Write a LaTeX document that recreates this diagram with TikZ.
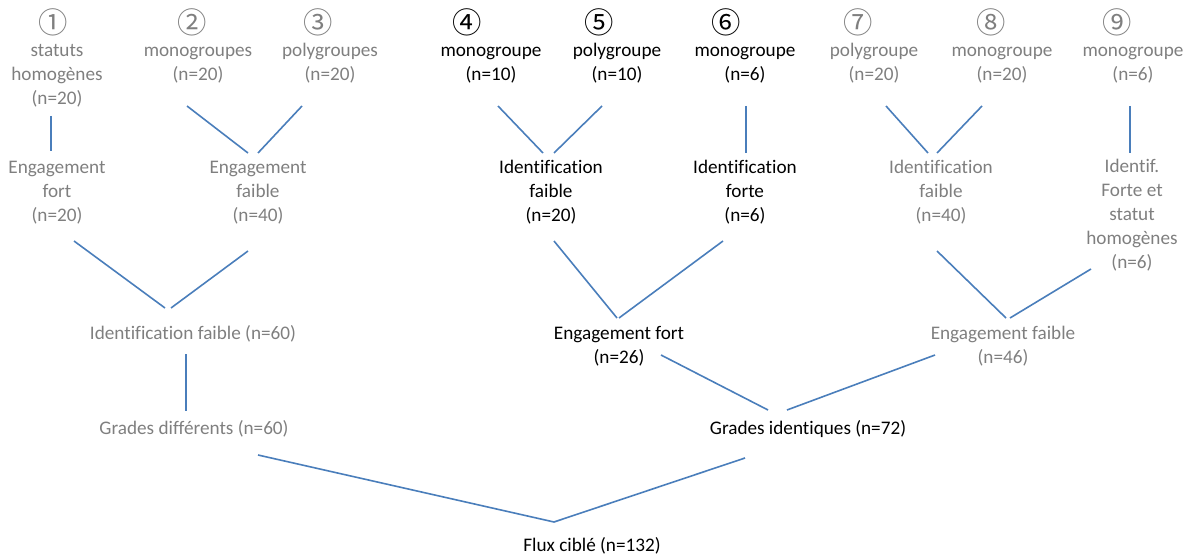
\documentclass[tikz,border=0pt]{standalone}
\usepackage{fontspec}
\setmainfont{Carlito}[Ligatures=NoCommon]
\newfontfamily\circfont{Noto Sans CJK SC}
\definecolor{txtgray}{RGB}{127,127,127}
\definecolor{lineblue}{RGB}{74,126,187}
\begin{document}
\begin{tikzpicture}[x=0.75pt,y=-0.75pt,
  lbl/.style={font=\fontsize{14.4}{18}\selectfont, align=center, inner sep=0pt, text=black},
  gr/.style={lbl, text=txtgray},
  num/.style={font=\circfont\fontsize{22}{24}\selectfont, inner sep=0pt, text=black},
  grnum/.style={num, text=txtgray},
  link/.style={draw=lineblue, line width=1.2pt}]
\useasboundingbox (0,0) rectangle (1189,556);

% circled numbers
\node[grnum] (c1) at (53,22) {①};
\node[grnum] (c2) at (192,22) {②};
\node[grnum] (c3) at (318,22) {③};
\node[num]   (c4) at (467,22) {④};
\node[num]   (c5) at (599,22) {⑤};
\node[num]   (c6) at (726,22) {⑥};
\node[grnum] (c7) at (858,22) {⑦};
\node[grnum] (c8) at (991,22) {⑧};
\node[grnum] (c9) at (1117,22) {⑨};

% top row
\node[gr]  (t1) at (57,75.5)  {\strut statuts\\\strut homogènes\\\strut (n=20)};
\node[gr]  (t2) at (198,63.5) {\strut monogroupes\\\strut (n=20)};
\node[gr]  (t3) at (330,63.5) {\strut polygroupes\\\strut (n=20)};
\node[lbl] (t4) at (491,63.5) {\strut monogroupe\\\strut (n=10)};
\node[lbl] (t5) at (617,63.5) {\strut polygroupe\\\strut (n=10)};
\node[lbl] (t6) at (745,63.5) {\strut monogroupe\\\strut (n=6)};
\node[gr]  (t7) at (874,63.5) {\strut polygroupe\\\strut (n=20)};
\node[gr]  (t8) at (1002,63.5) {\strut monogroupe\\\strut (n=20)};
\node[gr]  (t9) at (1133,63.5) {\strut monogroupe\\\strut (n=6)};

% second row
\node[gr]  (e1) at (57,193)  {\strut Engagement\\\strut fort\\\strut (n=20)};
\node[gr]  (e2) at (258,193) {\strut Engagement\\\strut faible\\\strut (n=40)};
\node[lbl] (i1) at (551,193) {\strut Identification\\\strut faible\\\strut (n=20)};
\node[lbl] (i2) at (745,193) {\strut Identification\\\strut forte\\\strut (n=6)};
\node[gr]  (i3) at (941,193) {\strut Identification\\\strut faible\\\strut (n=40)};
\node[gr]  (i4) at (1132,216) {\strut Identif.\\\strut Forte et\\\strut statut\\\strut homogènes\\\strut (n=6)};

% third row
\node[gr]  (f60) at (193,335)   {\strut Identification faible (n=60)};
\node[lbl] (g26) at (619,346.5) {\strut Engagement fort\\\strut (n=26)};
\node[gr]  (g46) at (1003,346.5) {\strut Engagement faible\\\strut (n=46)};

% fourth row
\node[gr]  (gd) at (194,430) {\strut Grades différents (n=60)};
\node[lbl] (gi) at (808,430) {\strut Grades identiques (n=72)};
\node[lbl] (fx) at (592,547) {\strut Flux ciblé (n=132)};

% connector end points
\coordinate (a1) at (51,116);   \coordinate (b1) at (51,151);
\coordinate (a2) at (187,106);  \coordinate (b2) at (248,153);
\coordinate (a3) at (302,106);  \coordinate (b3) at (258,153);
\coordinate (a4) at (498,106);  \coordinate (b4) at (543,153);
\coordinate (a5) at (602,106);  \coordinate (b5) at (554,153);
\coordinate (a6) at (746,106);  \coordinate (b6) at (746,153);
\coordinate (a7) at (886,106);  \coordinate (b7) at (928,153);
\coordinate (a8) at (982,106);  \coordinate (b8) at (937,153);
\coordinate (a9) at (1130,106); \coordinate (b9) at (1130,153);

\coordinate (a10) at (74,241);   \coordinate (b10) at (165,308);
\coordinate (a11) at (248,251);  \coordinate (b11) at (171,308);
\coordinate (a12) at (554,241);  \coordinate (b12) at (617,318);
\coordinate (a13) at (723,241);  \coordinate (b13) at (619,318);
\coordinate (a14) at (937,251);  \coordinate (b14) at (1006,318);
\coordinate (a15) at (1091,269); \coordinate (b15) at (1010,318);

\coordinate (a16) at (186,354);  \coordinate (b16) at (186,411);
\coordinate (a17) at (661,355);  \coordinate (b17) at (768,410);
\coordinate (a18) at (935,355);  \coordinate (b18) at (787,410);

\coordinate (a19) at (258,455);  \coordinate (apex) at (554,522);
\coordinate (a20) at (745,458);

\draw[link] (a1) -- (b1);
\draw[link] (a2) -- (b2);
\draw[link] (a3) -- (b3);
\draw[link] (a4) -- (b4);
\draw[link] (a5) -- (b5);
\draw[link] (a6) -- (b6);
\draw[link] (a7) -- (b7);
\draw[link] (a8) -- (b8);
\draw[link] (a9) -- (b9);
\draw[link] (a10) -- (b10);
\draw[link] (a11) -- (b11);
\draw[link] (a12) -- (b12);
\draw[link] (a13) -- (b13);
\draw[link] (a14) -- (b14);
\draw[link] (a15) -- (b15);
\draw[link] (a16) -- (b16);
\draw[link] (a17) -- (b17);
\draw[link] (a18) -- (b18);
\draw[link] (a19) -- (apex) -- (a20);
\end{tikzpicture}
\end{document}
